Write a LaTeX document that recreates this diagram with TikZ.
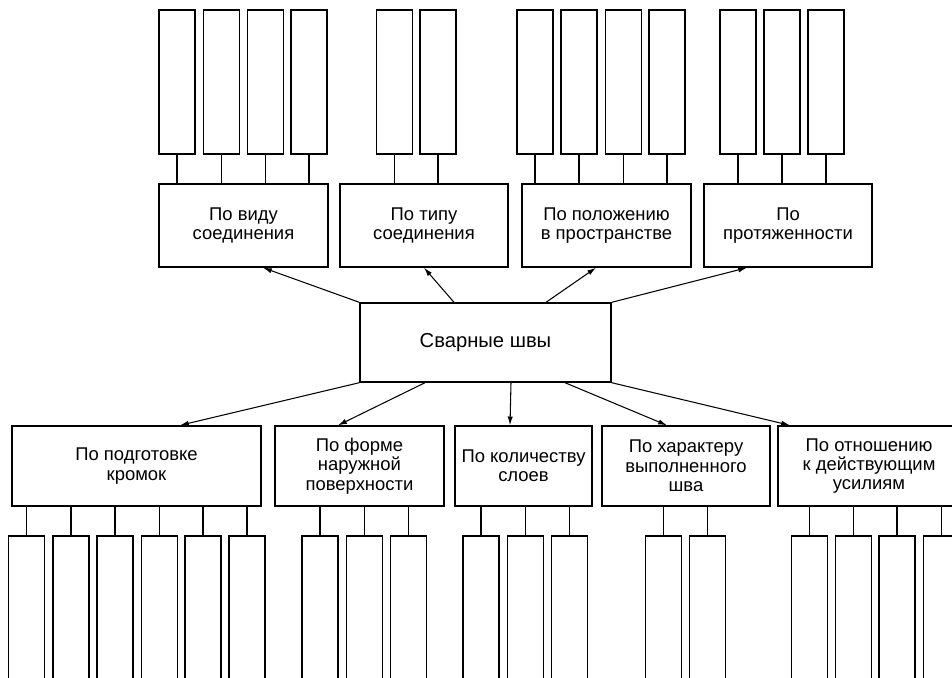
\documentclass[tikz,border=0pt]{standalone}
\usepackage{fontspec}
\setmainfont{Liberation Sans}
\usetikzlibrary{arrows.meta, calc}

\tikzset{
    catbox/.style={draw, line width=0.8pt, align=center, inner sep=2pt, font=\fontsize{10.5}{11}\selectfont},
    leafbox/.style={draw, line width=0.8pt, minimum width=0.72cm, inner sep=0pt},
    link/.style={line width=0.6pt},
    arrow/.style={line width=0.6pt, -{Latex[length=5pt, width=3pt]}}
}

\begin{document}
\begin{tikzpicture}[x=0.02cm, y=-0.02cm]
    \useasboundingbox (0,0) rectangle (952,677);
    \clip (0,0) rectangle (952,677);

    % Root
    \node[catbox, minimum width=5.02cm, minimum height=1.58cm, font=\fontsize{11.5}{12}\selectfont] (root) at (485.5,342.5) {Сварные швы};

    % Upper groups
    \node[catbox, minimum width=3.38cm, minimum height=1.66cm] (vid) at (243.5,225.5) {По виду\\соединения};
    \node[catbox, minimum width=3.36cm, minimum height=1.66cm] (tip) at (424,225.5) {По типу\\соединения};
    \node[catbox, minimum width=3.38cm, minimum height=1.66cm] (pol) at (606.5,225.5) {По положению\\в пространстве};
    \node[catbox, minimum width=3.36cm, minimum height=1.66cm] (prot) at (788,225.5) {По\\протяженности};

    % Lower groups
    \node[catbox, minimum width=4.98cm, minimum height=1.6cm] (podg) at (136.5,466) {По подготовке\\кромок};
    \node[catbox, minimum width=3.38cm, minimum height=1.6cm] (forma) at (359.5,466) {По форме\\наружной\\поверхности};
    \node[catbox, minimum width=2.74cm, minimum height=1.6cm] (sloi) at (523.5,466) {По количеству\\слоев};
    \node[catbox, minimum width=3.36cm, minimum height=1.6cm] (har) at (686,466) {По характеру\\выполненного\\шва};
    \node[catbox, minimum width=3.64cm, minimum height=1.6cm] (usil) at (869,466) {По отношению\\к действующим\\усилиям};

    % Empty cells above
    \foreach \x [count=\i] in {177,221.5,265.5,309} {
        \node[leafbox, minimum height=2.88cm] (vid\i) at (\x,82) {};
        \draw[link] (vid\i.south) -- (vid\i.south |- vid.north);
    }
    \foreach \x [count=\i] in {394.5,438} {
        \node[leafbox, minimum height=2.88cm] (tip\i) at (\x,82) {};
        \draw[link] (tip\i.south) -- (tip\i.south |- tip.north);
    }
    \foreach \x [count=\i] in {535,579,623.5,667} {
        \node[leafbox, minimum height=2.88cm] (pol\i) at (\x,82) {};
        \draw[link] (pol\i.south) -- (pol\i.south |- pol.north);
    }
    \foreach \x [count=\i] in {738,782,826} {
        \node[leafbox, minimum height=2.88cm] (prot\i) at (\x,82) {};
        \draw[link] (prot\i.south) -- (prot\i.south |- prot.north);
    }

    % Empty cells below
    \foreach \x [count=\i] in {26.5,71,115,159.5,203,247} {
        \node[leafbox, minimum height=3.08cm] (podg\i) at (\x,613) {};
        \draw[link] (podg\i.north) -- (podg\i.north |- podg.south);
    }
    \foreach \x [count=\i] in {320,364.5,408.5} {
        \node[leafbox, minimum height=3.08cm] (forma\i) at (\x,613) {};
        \draw[link] (forma\i.north) -- (forma\i.north |- forma.south);
    }
    \foreach \x [count=\i] in {481,525.5,569.5} {
        \node[leafbox, minimum height=3.08cm] (sloi\i) at (\x,613) {};
        \draw[link] (sloi\i.north) -- (sloi\i.north |- sloi.south);
    }
    \foreach \x [count=\i] in {663.5,707.5} {
        \node[leafbox, minimum height=3.08cm] (har\i) at (\x,613) {};
        \draw[link] (har\i.north) -- (har\i.north |- har.south);
    }
    \foreach \x [count=\i] in {809.5,853.5,897,941.5} {
        \node[leafbox, minimum height=3.08cm] (usil\i) at (\x,613) {};
        \draw[link] (usil\i.north) -- (usil\i.north |- usil.south);
    }

    % Arrows
    \draw[arrow] (root.north west) -- ($(vid.south)+(19.5,0)$);
    \draw[arrow] ($(root.north)+(-31.5,0)$) -- (tip.south);
    \draw[arrow] ($(root.north)+(60.5,0)$) -- ($(pol.south)+(-10.5,0)$);
    \draw[arrow] (root.north east) -- ($(prot.south)+(-41,0)$);
    \draw[arrow] (root.south west) -- ($(podg.north)+(43.5,0)$);
    \draw[arrow] ($(root.south)+(-60.5,0)$) -- ($(forma.north)+(-21.5,0)$);
    \draw[arrow] ($(root.south)+(25.5,0)$) -- ($(sloi.north)+(-13.5,0)$);
    \draw[arrow] ($(root.south)+(79.5,0)$) -- ($(har.north)+(-19,0)$);
    \draw[arrow] (root.south east) -- ($(usil.north)+(-79,0)$);
\end{tikzpicture}
\end{document}
